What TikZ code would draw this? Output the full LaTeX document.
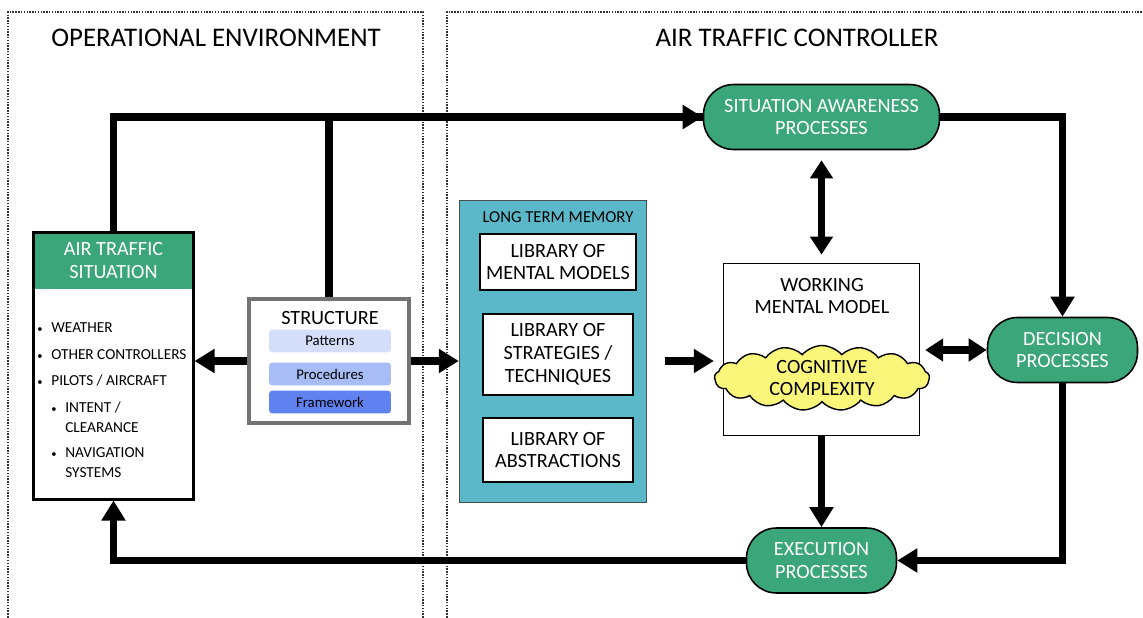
\documentclass[tikz,border=0pt]{standalone}
\usepackage{fontspec}
\setmainfont{Carlito}
\usetikzlibrary{arrows.meta,shapes.symbols,positioning}

\definecolor{atcgreen}{RGB}{58,166,122}
\definecolor{ltmblue}{RGB}{91,184,201}
\definecolor{patcol}{RGB}{212,222,250}
\definecolor{proccol}{RGB}{168,188,246}
\definecolor{framecol}{RGB}{96,130,240}
\definecolor{cloudyellow}{RGB}{250,246,122}

\newcommand{\dotitem}{\makebox[0.28cm][l]{\fontsize{6}{6}\selectfont\textbullet}}

\begin{document}
\begin{tikzpicture}[x=0.02cm,y=-0.02cm,
  frame/.style={line width=0.7pt,dash pattern=on 0.8pt off 0.8pt,black!80},
  flow/.style={line width=4pt,-{Triangle[length=0.4cm,width=0.46cm]}},
  twoway/.style={line width=4pt,{Triangle[length=0.36cm,width=0.44cm]}-{Triangle[length=0.36cm,width=0.44cm]}},
  bigtext/.style={font=\fontsize{11.5}{13}\selectfont,align=center},
  process/.style={bigtext,draw,line width=0.9pt,fill=atcgreen,text=white,rounded corners=0.6cm,minimum height=1.3cm},
  library/.style={bigtext,draw,line width=1.4pt,fill=white,minimum width=3.0cm},
  item/.style={anchor=west,inner sep=0,align=left,font=\fontsize{8.7}{11.3}\selectfont},
  layer/.style={minimum width=2.44cm,minimum height=0.46cm,rounded corners=2pt,inner sep=0,font=\fontsize{8.4}{9}\selectfont}]
\useasboundingbox (0,0) rectangle (1143,618);

% dotted frames
\draw[frame] (8,640) -- (8,12) -- (423,12) -- (423,640);
\draw[frame] (447,640) -- (447,12) -- (1160,12);
\node[font=\fontsize{15.3}{18}\selectfont] (openv) at (216,38) {OPERATIONAL ENVIRONMENT};
\node[font=\fontsize{15.3}{18}\selectfont] (atc) at (797,38) {AIR TRAFFIC CONTROLLER};

% air traffic situation
\node[bigtext,fill=atcgreen,text=white,minimum width=3.22cm,minimum height=1.14cm,anchor=north] (atshead) at (113.5,232) {AIR TRAFFIC\\SITUATION};
\node[draw,line width=1.2pt,minimum width=3.2cm,minimum height=5.34cm] (ats) at (113.5,366) {};
\node[item] (weather) at (37,328) {\dotitem WEATHER};
\node[item] (others) at (37,355) {\dotitem OTHER CONTROLLERS};
\node[item] (pilots) at (37,381) {\dotitem PILOTS / AIRCRAFT};
\node[item] (intent) at (51,417) {\dotitem INTENT /\\\hspace*{0.28cm}CLEARANCE};
\node[item] (nav) at (51,463) {\dotitem NAVIGATION\\\hspace*{0.28cm}SYSTEMS};

% structure
\node[draw=black!55,line width=2.3pt,minimum width=3.2cm,minimum height=2.48cm] (struct) at (329,361) {};
\node[bigtext] (structtitle) at (330,318) {STRUCTURE};
\node[layer,fill=patcol] (patterns) at (330,341) {Patterns};
\node[layer,fill=proccol] (procedures) at (330,374) {Procedures};
\node[layer,fill=framecol] (framework) at (330,402) {Framework};

% long term memory
\node[draw=black!70,line width=0.8pt,fill=ltmblue,minimum width=3.74cm,minimum height=6.04cm] (ltm) at (553,351.5) {};
\node[font=\fontsize{9.5}{11}\selectfont] (ltmtitle) at (558,217) {LONG TERM MEMORY};
\node[library,minimum height=1.13cm] (libmodels) at (558,262) {LIBRARY OF\\MENTAL MODELS};
\node[library,minimum height=1.63cm] (libstrat) at (558,354.5) {LIBRARY OF\\STRATEGIES /\\TECHNIQUES};
\node[library,minimum height=1.29cm] (libabs) at (558,450) {LIBRARY OF\\ABSTRACTIONS};

% working mental model
\node[draw,line width=1pt,fill=white,minimum width=3.92cm,minimum height=3.44cm] (wmm) at (821.5,349.5) {};
\node[bigtext] (wmmtitle) at (822,296) {WORKING\\MENTAL MODEL};
\node[bigtext,cloud,cloud puffs=17,cloud puff arc=100,aspect=3.6,draw,line width=0.8pt,fill=cloudyellow,
  minimum width=4.3cm,minimum height=1.3cm,inner sep=-4pt] (cloud) at (822,378) {COGNITIVE\\COMPLEXITY};

% processes
\node[process,minimum width=4.72cm] (sa) at (821.5,117) {SITUATION AWARENESS\\PROCESSES};
\node[process,minimum width=3.0cm] (dec) at (1062.5,350) {DECISION\\PROCESSES};
\node[process,minimum width=3.0cm] (exe) at (821.5,560.5) {EXECUTION\\PROCESSES};

% connectors
\draw[line width=4pt] (struct.north) |- (sa.west);
\draw[flow] (ats.north) |- (sa.west);
\draw[flow] (sa.east) -| (dec.north);
\draw[twoway,shorten <=0.2cm,shorten >=0.16cm] (sa.south) -- (wmm.north);
\draw[twoway,shorten <=-0.1cm] (cloud.east |- dec.west) -- (dec.west);
\draw[flow] (struct.west) -- (struct.west -| ats.east);
\draw[flow] (struct.east) -- (struct.east -| ltm.west);
\draw[flow,shorten <=0.36cm] (struct.east -| ltm.east) -- (struct.east -| cloud.west);
\draw[flow] (wmm.south) -- (exe.north);
\draw[flow] (dec.south) |- (exe.east);
\draw[flow] (exe.west) -| (ats.south);
\end{tikzpicture}
\end{document}
